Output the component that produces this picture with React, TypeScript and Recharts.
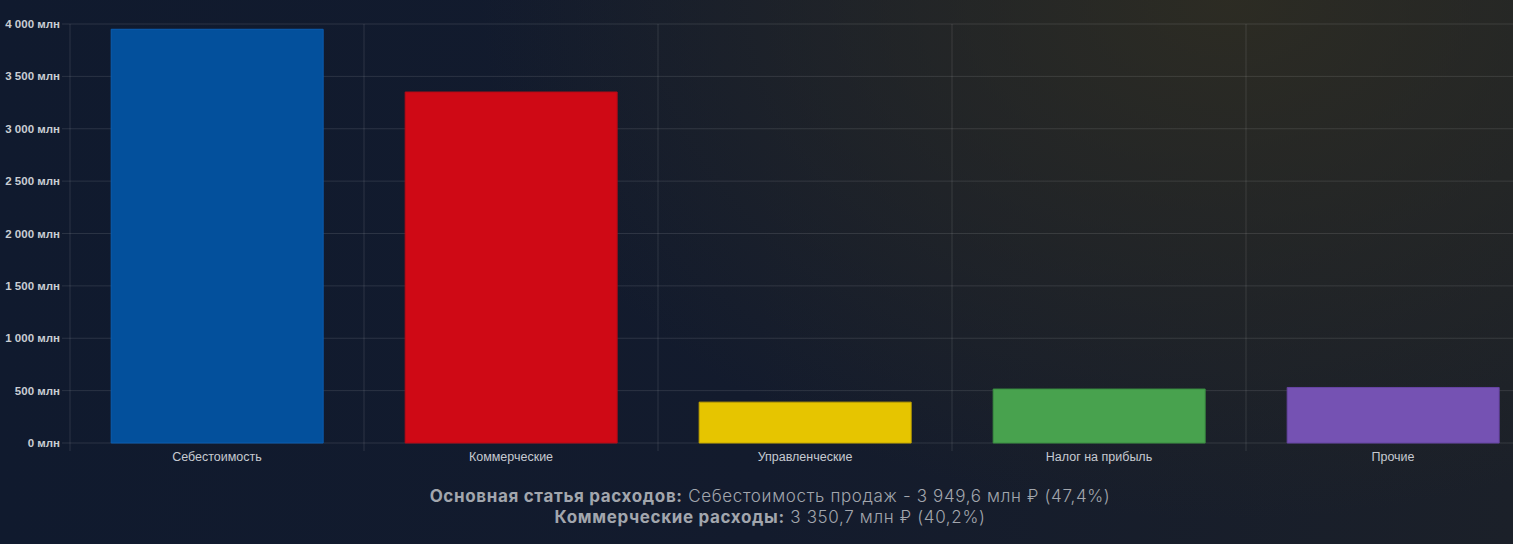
import { BarChart, Bar, XAxis, YAxis, CartesianGrid, Cell } from 'recharts'

const categories = ['Себестоимость', 'Коммерческие', 'Управленческие', 'Налог на прибыль', 'Прочие']
const values = [3949.6, 3350.7, 390, 515, 530]
const fills = ['#03509c', '#cf0915', '#e6c500', '#48a24e', '#7552b3']
const strokes = ['#0b5db0', '#b30b16', '#c4a600', '#3a8e41', '#6644a3']
const yTicks = [0, 500, 1000, 1500, 2000, 2500, 3000, 3500, 4000]

const data = categories.map((name, i) => ({ name, value: values[i] }))

const GRID = 'rgba(255,255,255,0.11)'
const AXIS_FONT = '"Liberation Sans", Arial, sans-serif'

const formatMln = (v: number) =>
  `${String(v).replace(/\B(?=(\d{3})+(?!\d))/g, ' ')} млн`

// category tick: label at band center + grid tick at band start
const XTick = (props: any) => {
  const { x, y, payload, width, visibleTicksCount } = props
  const band = width / visibleTicksCount
  const bx = x - band / 2
  const axisY = y - 9
  return (
    <g>
      <line x1={bx} x2={bx} y1={axisY} y2={axisY + 8} stroke={GRID} />
      <text
        x={x}
        y={y}
        dy="0.71em"
        textAnchor="middle"
        fill="#c6cad1"
        fontSize={12.5}
        fontFamily={AXIS_FONT}
      >
        {payload.value}
      </text>
    </g>
  )
}

export default function App() {
  return (
    <div
      style={{
        width: 1513,
        height: 544,
        overflow: 'hidden',
        position: 'relative',
        background:
          'radial-gradient(ellipse 750px 520px at 1230px 0px, rgba(48,46,34,0.85), rgba(48,46,34,0) 100%), linear-gradient(to right, #101a2e 0%, #131b2d 50%, #1b2029 100%)'
      }}
    >
      <style>{'body{margin:0}'}</style>
      <div style={{ width: 1540 }}>
        <BarChart
          width={1540}
          height={475}
          data={data}
          margin={{ top: 24, right: 0, left: 0, bottom: 0 }}
          barCategoryGap="14%"
        >
          <CartesianGrid
            stroke={GRID}
            verticalCoordinatesGenerator={({ offset }: any) =>
              [0, 1, 2, 3, 4, 5].map((i) => offset.left + (i * offset.width) / 5)
            }
          />
          <XAxis
            dataKey="name"
            height={32}
            axisLine={false}
            tickLine={false}
            tickSize={8}
            tickMargin={1}
            interval={0}
            tick={<XTick />}
          />
          <YAxis
            width={70}
            domain={[0, 4000]}
            ticks={yTicks}
            tickFormatter={formatMln}
            axisLine={false}
            tickLine={{ stroke: GRID }}
            tickSize={8}
            tickMargin={2}
            tick={{ fill: '#c9cdd3', fontSize: 11.5, fontWeight: 700, fontFamily: AXIS_FONT }}
          />
          <Bar dataKey="value" isAnimationActive={false} strokeWidth={1}>
            {data.map((entry, i) => (
              <Cell key={`cell-${entry.name}`} fill={fills[i]} stroke={strokes[i]} />
            ))}
          </Bar>
        </BarChart>
        <div
          style={{
            textAlign: 'center',
            color: '#a2a6ad',
            fontFamily: 'Inter, "Open Sans", sans-serif',
            fontSize: 17,
            lineHeight: '21px',
            paddingTop: 11,
            fontWeight: 300,
            letterSpacing: '0.65px'
          }}
        >
          <div>
            <b style={{ fontWeight: 700 }}>Основная статья расходов:</b> Себестоимость продаж - 3 949,6 млн ₽ (47,4%)
          </div>
          <div>
            <b style={{ fontWeight: 700 }}>Коммерческие расходы:</b> 3 350,7 млн ₽ (40,2%)
          </div>
        </div>
      </div>
    </div>
  )
}
